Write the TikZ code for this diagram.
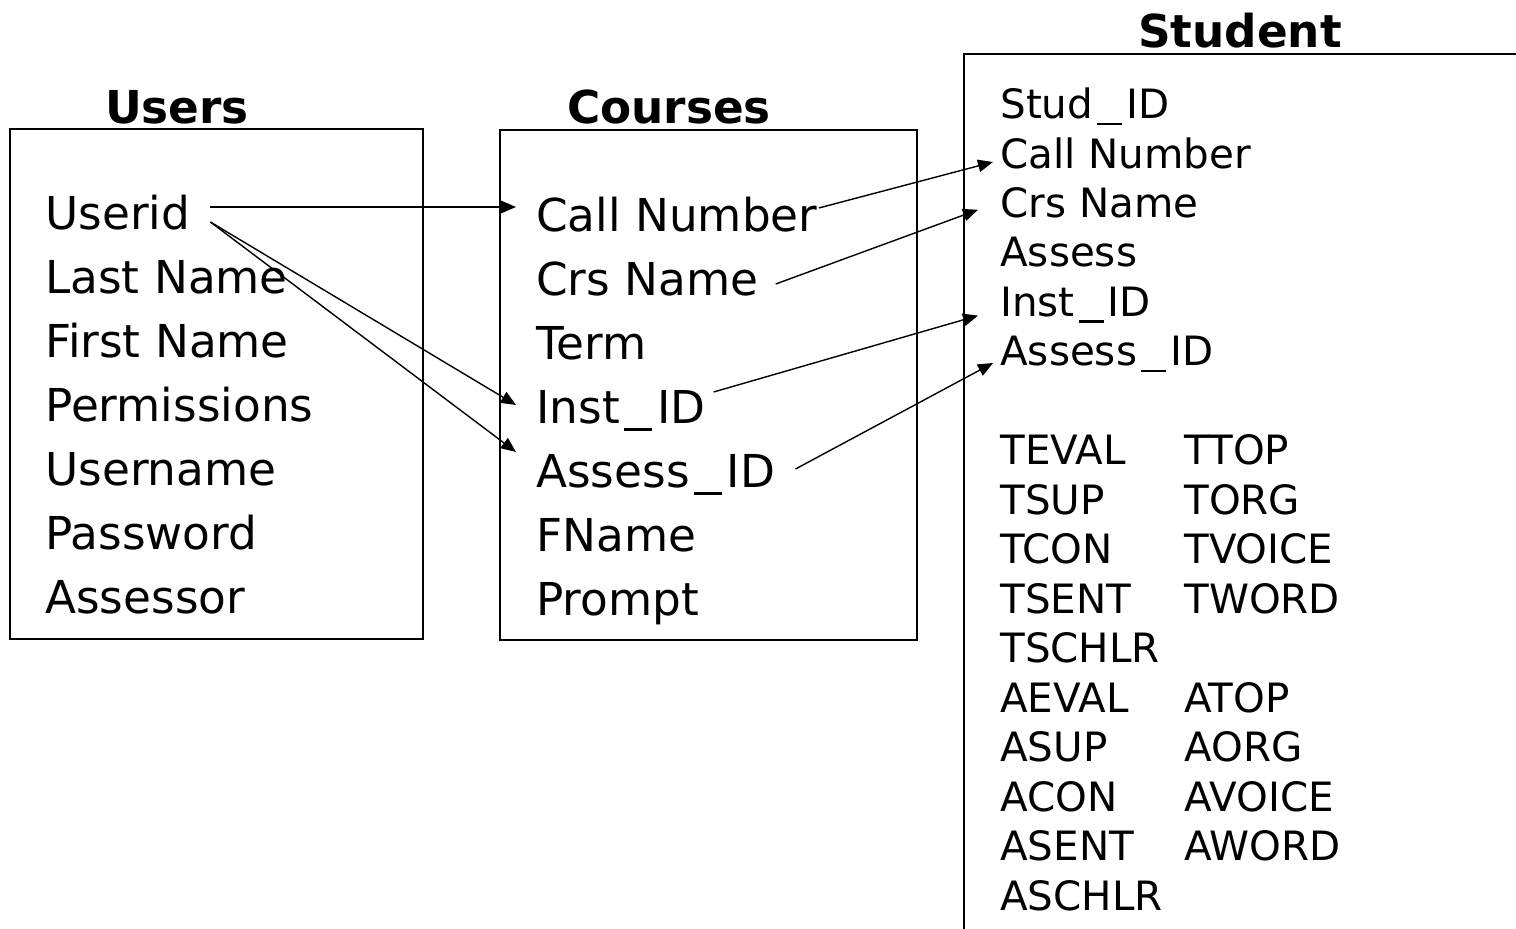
\documentclass[tikz,border=0pt]{standalone}
\usepackage{fontspec}
\setmainfont{DejaVu Sans}
\usetikzlibrary{arrows.meta}

\newcommand{\usc}{\kern0.1em\rule[-0.16em]{0.62em}{0.065em}\kern0.1em}

\begin{document}
\begin{tikzpicture}[
  x=0.02cm, y=-0.02cm,
  table/.style={draw, line width=1.1pt},
  title/.style={anchor=base, inner sep=0pt, font=\fontsize{25.8}{30}\selectfont\bfseries},
  field/.style={anchor=west, inner xsep=0.4cm, inner ysep=0pt, text height=18.8pt, text depth=0pt,
    font=\fontsize{25.8}{30}\selectfont},
  sfield/.style={field, text height=16.8pt, font=\fontsize{23}{27}\selectfont},
  link/.style={-{Triangle[length=3mm,width=2.5mm]}, line width=0.8pt}
]
\useasboundingbox (0,0) rectangle (1516,929);

% tables
\draw[table] (10,129) rectangle (423,639);
\draw[table] (500,130) rectangle (917,640);
\draw[table] (1516,54) -- (964,54) -- (964,929);

\node[title] (tusers) at (177,124) {Users};
\node[title] (tcourses) at (669,124) {Courses};
\node[title] (tstudent) at (1240,48) {Student};

% fields
\foreach \n/\t [count=\i from 0] in {uid/Userid, ulast/Last Name, ufirst/First Name,
    uperm/Permissions, uname/Username, upass/Password, uasr/Assessor}
  \node[field] (\n) at (25,213+64*\i) {\t};

\foreach \n/\t [count=\i from 0] in {ccall/Call Number, ccrs/Crs Name, cterm/Term,
    cinst/Inst\usc ID, cass/Assess\usc ID, cfname/FName, cprompt/Prompt}
  \node[field] (\n) at (516,215+64*\i) {\t};

\foreach \n/\t [count=\i from 0] in {sstud/Stud\usc ID, scall/Call Number, scrs/Crs Name,
    sassess/Assess, sinst/Inst\usc ID, sass/Assess\usc ID}
  \node[sfield] (\n) at (980,104+49.4*\i) {\t};

\foreach \t [count=\i from 0] in {TEVAL, TSUP, TCON, TSENT, TSCHLR, AEVAL, ASUP, ACON, ASENT, ASCHLR}
  \node[sfield] (s\t) at (980,450+49.5*\i) {\t};
\foreach \t/\i in {TTOP/0, TORG/1, TVOICE/2, TWORD/3, ATOP/5, AORG/6, AVOICE/7, AWORD/8}
  \node[sfield] (s\t) at (1164,450+49.5*\i) {\t};

% links
\draw[link] ([shift={(0,-6)}]uid.east) -- ([shift={(0,-8)}]ccall.west);
\draw[link] ([shift={(0,9)}]uid.east) -- ([shift={(0,-2)}]cinst.west);
\draw[link] ([shift={(0,9)}]uid.east) -- ([shift={(0,-19)}]cass.west);
\draw[link] ([shift={(-19,-7)}]ccall.east) -- ([shift={(13,8.6)}]scall.west);
\draw[link] ([shift={(-3,5)}]ccrs.east) -- ([shift={(-2,7)}]scrs.west);
\draw[link] ([shift={(-12,-15)}]cinst.east) -- ([shift={(-2,14)}]sinst.west);
\draw[link] ([shift={(0,-2)}]cass.east) -- ([shift={(13,12)}]sass.west);

\end{tikzpicture}
\end{document}
